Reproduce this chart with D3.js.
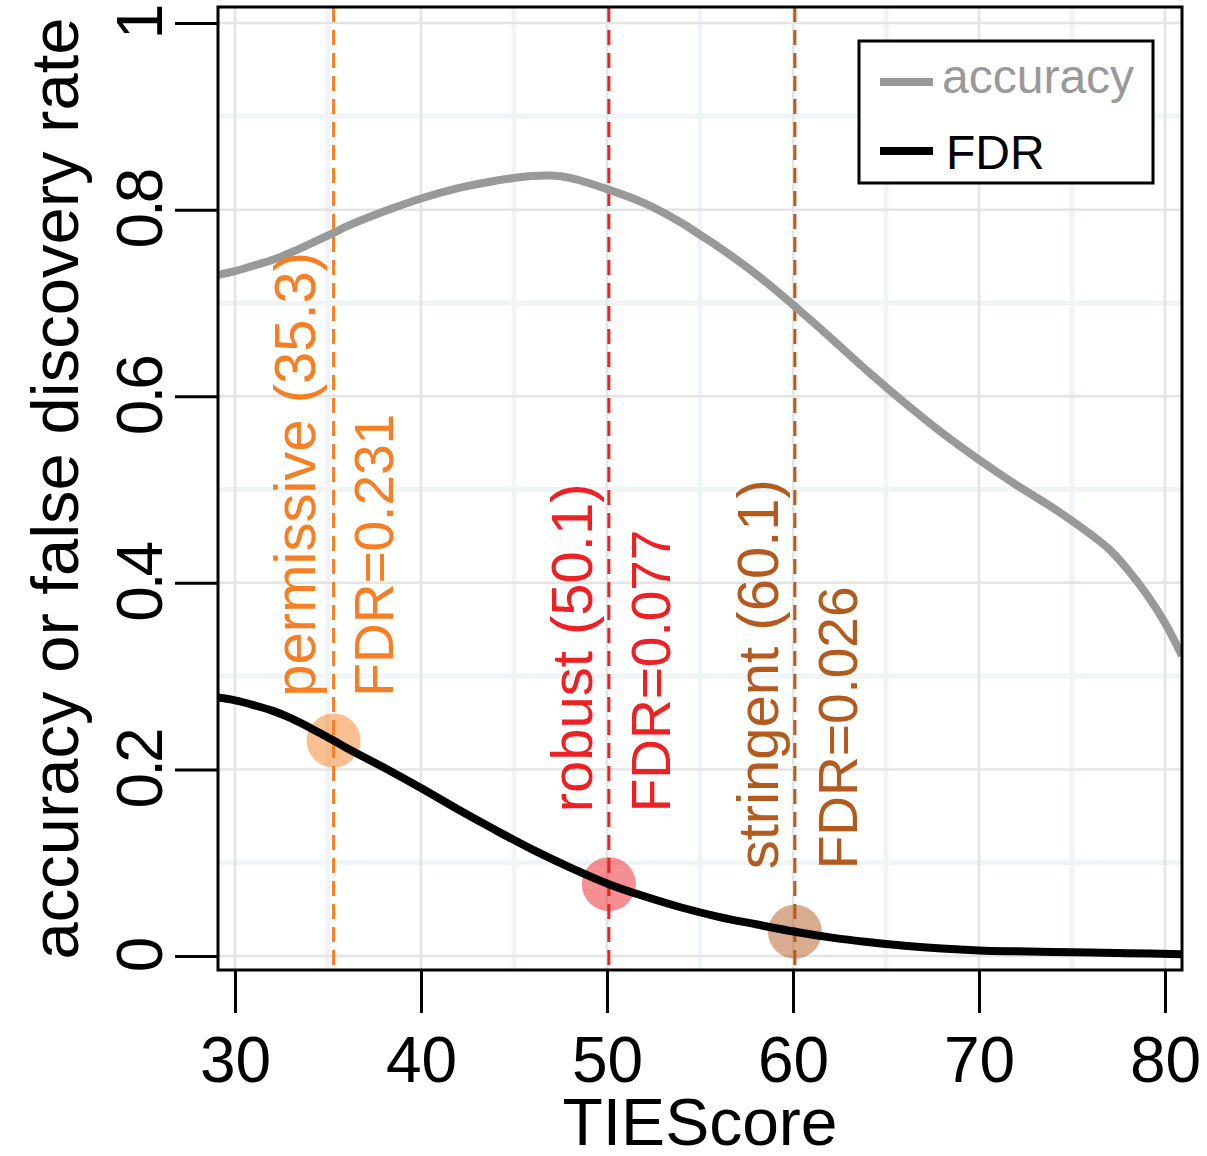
<!DOCTYPE html>
<html>
<head>
<meta charset="utf-8">
<script src="https://cdn.jsdelivr.net/npm/d3@7"></script>
<style>
  html, body { margin: 0; padding: 0; background: #fff; }
  text { font-family: "Liberation Sans", Arial, Helvetica, sans-serif; }
</style>
</head>
<body>
<svg id="chart" width="1207" height="1156"></svg>
<script>
// ---- data ----
const accX = [29.09, 30, 31, 32, 33, 34, 35.3, 36, 38, 40, 42, 44, 45, 46, 47, 48, 50, 52, 54, 55, 56, 58, 60, 62, 64, 66, 68, 70, 72, 74, 76, 77, 78, 79, 80, 80.91];
const accY = [0.730, 0.734, 0.740, 0.746, 0.754, 0.763, 0.775, 0.782, 0.798, 0.812, 0.823, 0.831, 0.834, 0.836, 0.8365, 0.834, 0.822, 0.807, 0.786, 0.773, 0.760, 0.731, 0.698, 0.663, 0.627, 0.593, 0.561, 0.532, 0.505, 0.480, 0.452, 0.436, 0.414, 0.388, 0.357, 0.322];
const fdrX = [29.09, 30, 31, 32, 33, 34, 35.3, 36, 38, 40, 42, 44, 46, 48, 50.1, 52, 54, 56, 58, 60.1, 62, 64, 66, 68, 70, 72, 75, 78, 80.91];
const fdrY = [0.277, 0.274, 0.269, 0.263, 0.255, 0.245, 0.231, 0.223, 0.202, 0.180, 0.157, 0.135, 0.114, 0.095, 0.077, 0.064, 0.052, 0.042, 0.034, 0.026, 0.020, 0.015, 0.011, 0.008, 0.006, 0.005, 0.004, 0.003, 0.002];

const cutNames = ["permissive", "robust", "stringent"];
const cutScores = [35.3, 50.1, 60.1];
const cutFDR = [0.231, 0.077, 0.026];
const cutLabels1 = ["permissive (35.3)", "robust (50.1)", "stringent (60.1)"];
const cutLabels2 = ["FDR=0.231", "FDR=0.077", "FDR=0.026"];
const cutTextStart = [0.278, 0.154, 0.093];   // y value where rotated labels begin
const cutColors = ["#f47f24", "#ed2024", "#b35a1f"];

const xTicks = [30, 40, 50, 60, 70, 80];
const xMinor = [35, 45, 55, 65, 75];
const yTicks = [0, 0.2, 0.4, 0.6, 0.8, 1];
const yMinor = [0.1, 0.3, 0.5, 0.7, 0.9];
const yTickLabels = ["0", "0.2", "0.4", "0.6", "0.8", "1"];
const legendLabels = ["accuracy", "FDR"];
const seriesColors = ["#999999", "#000000"];

// ---- layout ----
const L = 218, R = 1182, T = 7, B = 970;
const x = d3.scaleLinear().domain([29.086, 80.914]).range([L, R]);
const y = d3.scaleLinear().domain([-0.015, 1.0172]).range([B, T]);

const svg = d3.select("#chart");

svg.append("defs").append("clipPath").attr("id", "clip")
  .append("rect").attr("x", L).attr("y", T).attr("width", R - L).attr("height", B - T);

const plot = svg.append("g").attr("clip-path", "url(#clip)");

// minor grid
plot.selectAll("line.vminor").data(xMinor).join("line")
  .attr("x1", d => x(d)).attr("x2", d => x(d)).attr("y1", T).attr("y2", B)
  .attr("stroke", "#eff4f7").attr("stroke-width", 5);
plot.selectAll("line.hminor").data(yMinor).join("line")
  .attr("y1", d => y(d)).attr("y2", d => y(d)).attr("x1", L).attr("x2", R)
  .attr("stroke", "#eff4f7").attr("stroke-width", 5);
// major grid
plot.selectAll("line.vmajor").data(xTicks).join("line")
  .attr("x1", d => x(d)).attr("x2", d => x(d)).attr("y1", T).attr("y2", B)
  .attr("stroke", "#e4e4e4").attr("stroke-width", 2.5);
plot.selectAll("line.hmajor").data(yTicks).join("line")
  .attr("y1", d => y(d)).attr("y2", d => y(d)).attr("x1", L).attr("x2", R)
  .attr("stroke", "#e4e4e4").attr("stroke-width", 2.5);

// cutoff dashed lines
plot.selectAll("line.cut").data(cutScores).join("line")
  .attr("x1", d => x(d)).attr("x2", d => x(d)).attr("y1", T).attr("y2", B)
  .attr("stroke", (d, i) => cutColors[i]).attr("stroke-width", 3)
  .attr("stroke-dasharray", "15,8");

// circles
plot.selectAll("circle.cut").data(cutScores).join("circle")
  .attr("cx", d => x(d)).attr("cy", (d, i) => y(cutFDR[i])).attr("r", 27)
  .attr("fill", (d, i) => cutColors[i]).attr("fill-opacity", 0.5);

// curves
const line = d3.line().x(d => x(d[0])).y(d => y(d[1])).curve(d3.curveCatmullRom.alpha(0.5));
plot.append("path").datum(accX.map((v, i) => [v, accY[i]]))
  .attr("d", line).attr("fill", "none").attr("stroke", seriesColors[0]).attr("stroke-width", 8);
plot.append("path").datum(fdrX.map((v, i) => [v, fdrY[i]]))
  .attr("d", line).attr("fill", "none").attr("stroke", seriesColors[1]).attr("stroke-width", 8);

// cutoff labels (rotated)
const line1Off = [-19, -17, -17];
const line2Off = [59, 61, 62];
cutScores.forEach((s, i) => {
  svg.append("text")
    .attr("transform", `translate(${x(s) + line1Off[i]},${y(cutTextStart[i])}) rotate(-90)`)
    .attr("font-size", 58).attr("fill", cutColors[i]).attr("text-anchor", "start")
    .text(cutLabels1[i]);
  svg.append("text")
    .attr("transform", `translate(${x(s) + line2Off[i]},${y(cutTextStart[i])}) rotate(-90)`)
    .attr("font-size", 55).attr("fill", cutColors[i]).attr("text-anchor", "start")
    .text(cutLabels2[i]);
});

// frame
svg.append("rect").attr("x", L).attr("y", T).attr("width", R - L).attr("height", B - T)
  .attr("fill", "none").attr("stroke", "#000").attr("stroke-width", 3);

// x axis
const xAxis = svg.append("g").attr("transform", `translate(0,${B})`)
  .call(d3.axisBottom(x).tickValues(xTicks).tickSize(43).tickPadding(0).tickFormat(d3.format("d")));
xAxis.select(".domain").remove();
xAxis.selectAll(".tick line").attr("stroke", "#000").attr("stroke-width", 3);
xAxis.selectAll(".tick text").attr("font-size", 64).attr("fill", "#000")
  .attr("y", 112).attr("dy", 0).style("font-family", "Liberation Sans, Arial, sans-serif");

// y axis
const yAxis = svg.append("g").attr("transform", `translate(${L},0)`)
  .call(d3.axisLeft(y).tickValues(yTicks).tickSize(43).tickFormat((d, i) => yTickLabels[i]));
yAxis.select(".domain").remove();
yAxis.selectAll(".tick line").attr("stroke", "#000").attr("stroke-width", 3);
yAxis.selectAll(".tick text").attr("font-size", 64).attr("fill", "#000")
  .attr("x", null).attr("dy", 0).attr("text-anchor", "middle")
  .attr("letter-spacing", -4)
  .attr("transform", "translate(-56,0) rotate(-90)")
  .style("font-family", "Liberation Sans, Arial, sans-serif");

// axis titles
svg.append("text").attr("x", (L + R) / 2).attr("y", 1145).attr("text-anchor", "middle")
  .attr("font-size", 66).attr("fill", "#000").text("TIEScore");
svg.append("text").attr("transform", `translate(78,${(T + B) / 2}) rotate(-90)`)
  .attr("text-anchor", "middle").attr("font-size", 67).attr("fill", "#000")
  .text("accuracy or false discovery rate");

// legend
const lg = svg.append("g");
lg.append("rect").attr("x", 859).attr("y", 41).attr("width", 294).attr("height", 142)
  .attr("fill", "#fff").attr("stroke", "#000").attr("stroke-width", 3);
const legY = [82, 151], legTextY = [93, 169], legTextX = [942, 946];
legendLabels.forEach((lab, i) => {
  lg.append("line").attr("x1", 880).attr("x2", 933).attr("y1", legY[i]).attr("y2", legY[i])
    .attr("stroke", seriesColors[i]).attr("stroke-width", 8);
  lg.append("text").attr("x", legTextX[i]).attr("y", legTextY[i]).attr("font-size", 48)
    .attr("fill", seriesColors[i]).text(lab);
});
</script>
</body>
</html>
